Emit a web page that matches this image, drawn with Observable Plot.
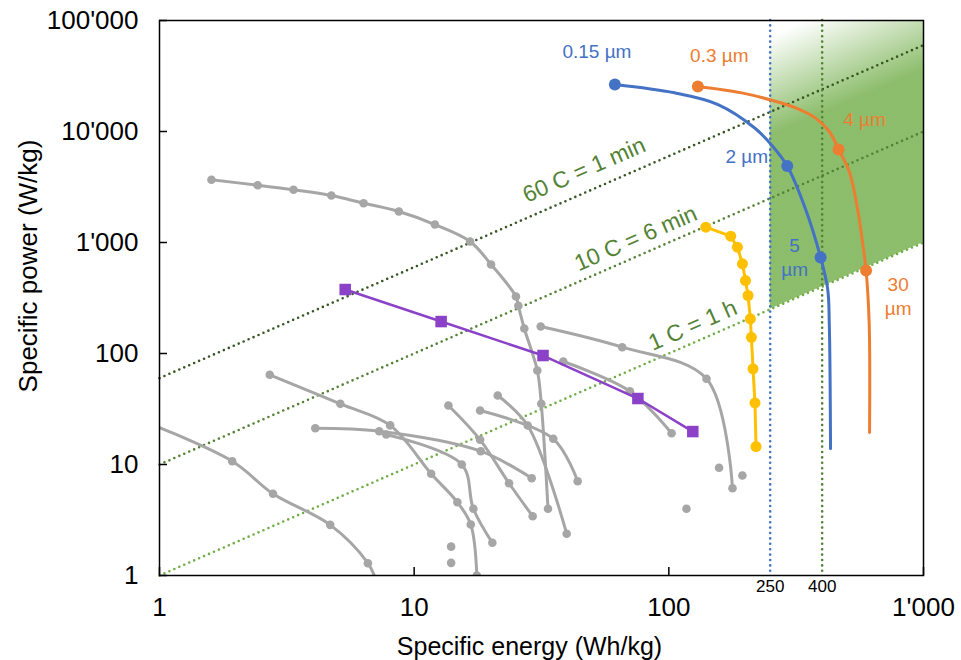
<!DOCTYPE html>
<html><head><meta charset="utf-8">
<script src="https://cdn.jsdelivr.net/npm/d3@7"></script>
<script src="https://cdn.jsdelivr.net/npm/@observablehq/plot@0.6"></script>
<style>body{margin:0;background:#fff;}</style>
</head><body><div id="chart"></div>
<script>
// ---------- data ----------
const xTicks = [1, 10, 100, 1000];
const xTickLabels = ["1", "10", "100", "1'000"];
const yTicks = [1, 10, 100, 1000, 10000, 100000];
const yTickLabels = ["1", "10", "100", "1'000", "10'000", "100'000"];

const targetE = [250, 400];
const targetLabels = ["250", "400"];

const rateNames = ["60 C = 1 min", "10 C = 6 min", "1 C = 1 h"];
const rateLineE = [[1, 1000], [1, 1000], [1, 1000]];
const rateLineP = [[60, 60000], [10, 10000], [1, 1000]];
const rateLabelE = [46.5, 74.2, 124.2];
const rateLabelP = [4500, 1087, 178.7];

const greenE = [250, 1000];
const greenLow = [250, 1000];
const greenHigh = [100000, 100000];

const blueE = [61.4, 105.2, 156, 218, 253.5, 291.7, 344, 394.5, 420.7, 426.6, 431.5];
const blueP = [26500, 22300, 17500, 10700, 7540, 4890, 2005, 732, 377, 186, 13.9];
const blueMarkE = [61.4, 291.7, 394.5];
const blueMarkP = [26500, 4890, 732];
const blueLabels = ["0.15 µm", "2 µm", "5\nµm"];
const blueLabelE = [52.2, 202.3, 311.9];
const blueLabelP = [53500, 6080, 748];

const orangeE = [130, 193.2, 262, 314.8, 377, 426.6, 464, 511.7, 551, 576.4, 595, 612, 614];
const orangeP = [25430, 22280, 18710, 16290, 13200, 10000, 6886, 4317, 2004, 1000, 560, 186, 19.4];
const orangeMarkE = [130, 464, 595];
const orangeMarkP = [25430, 6886, 560];
const orangeLabels = ["0.3 µm", "4 µm", "30\nµm"];
const orangeLabelE = [157.9, 587, 795.2];
const orangeLabelP = [49700, 13200, 333];

const yellowE = [139.7, 175, 185.9, 194.6, 200, 204.7, 209, 211, 214.1, 217.9, 220];
const yellowP = [1374, 1140, 907, 643, 454, 333, 205.5, 140, 72.8, 35.9, 14.5];

const purpleE = [5.36, 12.76, 32.06, 75.6, 124.2];
const purpleP = [377, 194, 95.9, 39.3, 19.8];

const grayCurves = [
  [[1.60,3673],[2.43,3282],[3.36,2985],[4.73,2650],[6.33,2260],[8.71,1902],[12.06,1452],[16.58,1021],[20.04,634],[25.1,326],[25.65,269],[27.07,168],[30.45,70.3],[31.56,35.2],[33.54,3.99]],
  [[0.8,26.5],[1.93,10.7],[2.79,5.45],[4.68,2.86],[6.58,1.29],[7.22,0.81]],
  [[2.71,64.3],[5.13,35.2],[8.05,22.5],[11.66,8.25],[14.78,4.57],[16.68,2.88],[17.62,1.0]],
  [[4.09,21.2],[7.29,19.95],[18.26,13.18],[28.94,7.53]],
  [[7.77,18.63],[15.38,10],[17.08,3.99],[20.28,1.97]],
  [[13.63,34.0],[18.15,16.69],[23.58,6.78],[29.2,3.42]],
  [[18.15,30.65],[35.17,17.04],[43.85,7.07]],
  [[21.29,41.84],[27.92,22.46],[39.71,2.38]],
  [[31.4,175],[65.6,114],[140.6,59.2],[177.8,6.11]],
  [[38.5,84.7],[70.3,45.75],[102.5,19.14]]
];
const grayLoneDots = [[13.97,1.82],[13.97,1.30],[157.5,9.34],[117.3,3.99],[194.5,7.96]];

// ---------- styles ----------
const W = 961, H = 660, mL = 159, mR = 38, mT = 20, mB = 85;
const plotW = W - mL - mR, plotH = H - mT - mB;
const font = "Arial, 'Liberation Sans', sans-serif";
const rateColors = ["#375623", "#548235", "#70AD47"];
const targetColors = ["#4472C4", "#548235"];
const BLUE = "#4472C4", ORANGE = "#ED7D31", YELLOW = "#FFC000", PURPLE = "#8C42C8", GRAY = "#A6A6A6";
const dotted = "0 5.4";
const angle = -Math.atan((plotH / 5) / (plotW / 3)) * 180 / Math.PI;

const rows = (E, P) => E.map((e, i) => ({E: e, P: P[i]}));
const labelRows = (T, E, P) => T.map((t, i) => ({t, E: E[i], P: P[i]}));
const grayRows = grayCurves.flatMap((c, k) => c.map(([E, P]) => ({E, P, k})));
const greenRows = greenE.map((e, i) => ({E: e, lo: greenLow[i], hi: greenHigh[i]}));

const marks = [
  Plot.areaY(greenRows, {x: "E", y1: "lo", y2: "hi", fill: "url(#greenFade)", fillOpacity: 0.8}),
  ...rateNames.map((n, i) => Plot.line(rows(rateLineE[i], rateLineP[i]),
      {x: "E", y: "P", stroke: rateColors[i], strokeWidth: 2.6, strokeDasharray: dotted, strokeLinecap: "round"})),
  ...targetE.map((e, i) => Plot.ruleX([e], {stroke: targetColors[i], strokeWidth: 2.6, strokeDasharray: dotted, strokeLinecap: "round"})),
  Plot.text(labelRows(rateNames, rateLabelE, rateLabelP),
      {x: "E", y: "P", text: "t", rotate: angle, fill: "#548235", fontSize: 23}),
  Plot.line(grayRows, {x: "E", y: "P", z: "k", stroke: GRAY, strokeWidth: 3, curve: "catmull-rom", clip: true}),
  Plot.dot(grayRows, {x: "E", y: "P", r: 4.3, fill: GRAY, clip: true}),
  Plot.dot(grayLoneDots, {x: d => d[0], y: d => d[1], r: 4.3, fill: GRAY}),
  Plot.line(rows(purpleE, purpleP), {x: "E", y: "P", stroke: PURPLE, strokeWidth: 2.5}),
  Plot.dot(rows(purpleE, purpleP), {x: "E", y: "P", symbol: "square", r: 6.5, fill: PURPLE}),
  Plot.line(rows(yellowE, yellowP), {x: "E", y: "P", stroke: YELLOW, strokeWidth: 3}),
  Plot.dot(rows(yellowE, yellowP), {x: "E", y: "P", r: 5.5, fill: YELLOW}),
  Plot.line(rows(blueE, blueP), {x: "E", y: "P", stroke: BLUE, strokeWidth: 3, curve: "catmull-rom"}),
  Plot.dot(rows(blueMarkE, blueMarkP), {x: "E", y: "P", r: 6, fill: BLUE}),
  Plot.line(rows(orangeE, orangeP), {x: "E", y: "P", stroke: ORANGE, strokeWidth: 3, curve: "catmull-rom"}),
  Plot.dot(rows(orangeMarkE, orangeMarkP), {x: "E", y: "P", r: 6, fill: ORANGE}),
  Plot.text(labelRows(blueLabels, blueLabelE, blueLabelP), {x: "E", y: "P", text: "t", fill: BLUE, fontSize: 19, lineHeight: 1.25}),
  Plot.text(labelRows(orangeLabels, orangeLabelE, orangeLabelP), {x: "E", y: "P", text: "t", fill: ORANGE, fontSize: 19, lineHeight: 1.25}),
  Plot.frame({stroke: "black", strokeWidth: 1.5}),
  Plot.tickX(xTicks, {x: d => d, stroke: "black", strokeWidth: 1.5, insetTop: plotH - 8}),
  Plot.tickY(yTicks, {y: d => d, stroke: "black", strokeWidth: 1.5, insetRight: plotW - 8}),
  Plot.axisX(xTicks, {tickSize: 0, tickPadding: 22, fontSize: 26, label: null,
      tickFormat: d => xTickLabels[xTicks.indexOf(d)]}),
  Plot.axisY(yTicks, {tickSize: 0, tickPadding: 21, fontSize: 26, label: null,
      tickFormat: d => yTickLabels[yTicks.indexOf(d)]}),
  Plot.text(targetE, {x: d => d, frameAnchor: "bottom", dy: 4, lineAnchor: "top", fontSize: 17,
      text: d => targetLabels[targetE.indexOf(d)], fill: "black"}),
  Plot.text(["Specific energy (Wh/kg)"], {frameAnchor: "bottom", dx: -12, dy: 62, lineAnchor: "top", fontSize: 25, fill: "black"}),
  Plot.text(["Specific power (W/kg)"], {frameAnchor: "left", textAnchor: "middle", dx: -131, dy: -32, rotate: -90, fontSize: 26, fill: "black"})
];

const plot = Plot.plot({
  width: W, height: H, marginLeft: mL, marginRight: mR, marginTop: mT, marginBottom: mB,
  style: {fontFamily: font, background: "white", color: "black"},
  x: {type: "log", domain: [1, 1000]},
  y: {type: "log", domain: [1, 100000]},
  marks
});

const xs = plot.scale("x"), ys = plot.scale("y");
const gx = xs.apply(250), gy = ys.apply(100000);
d3.select(plot).insert("defs", ":first-child").html(
  `<linearGradient id="greenFade" gradientUnits="userSpaceOnUse" x1="${gx}" y1="${gy + 16}" x2="${gx + 36}" y2="${gy + 100}">
     <stop offset="0" stop-color="#70AD47" stop-opacity="0"/>
     <stop offset="1" stop-color="#70AD47" stop-opacity="1"/>
   </linearGradient>`);
document.getElementById("chart").appendChild(plot);
</script>
</body></html>
